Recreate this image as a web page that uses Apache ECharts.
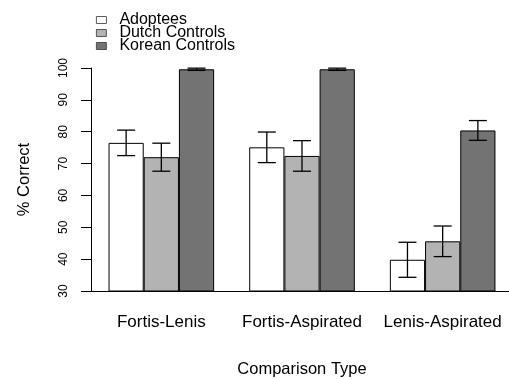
<!DOCTYPE html>
<html><head><meta charset="utf-8">
<script src="https://cdn.jsdelivr.net/npm/echarts@6/dist/echarts.min.js"></script>
<style>html,body{margin:0;padding:0;background:#fff}#c{width:509px;height:379px}</style>
</head><body><div id="c"></div>
<script>
var categories = ['Fortis-Lenis', 'Fortis-Aspirated', 'Lenis-Aspirated'];
var seriesNames = ['Adoptees', 'Dutch Controls', 'Korean Controls'];
var adoptees = [76.5, 75.1, 39.8];
var adopteesErr = [4.0, 4.8, 5.5];
var dutch = [72.0, 72.4, 45.6];
var dutchErr = [4.4, 4.8, 4.8];
var korean = [99.6, 99.6, 80.4];
var koreanErr = [0.35, 0.35, 3.1];
var yTicks = [30, 40, 50, 60, 70, 80, 90, 100];

var FONT = 'Liberation Sans, Arial, sans-serif';
var colors = ['#ffffff', '#b3b3b3', '#737373'];
var BAR_W = 35.2;
var values = [adoptees, dutch, korean];
var errs = [adopteesErr, dutchErr, koreanErr];

var series = [];
for (var s = 0; s < 3; s++) {
  series.push({
    name: seriesNames[s], type: 'bar', data: values[s], barWidth: BAR_W, barGap: '0%',
    itemStyle: { color: colors[s], borderColor: '#000', borderWidth: 1 },
    silent: true, z: 2
  });
}
for (var s2 = 0; s2 < 3; s2++) {
  (function (si) {
    var d = [];
    for (var i = 0; i < categories.length; i++) d.push([i, values[si][i] - errs[si][i], values[si][i] + errs[si][i]]);
    series.push({
      type: 'custom', data: d, z: 5, silent: true,
      renderItem: function (params, api) {
        var lo = api.coord([api.value(0), api.value(1)]);
        var hi = api.coord([api.value(0), api.value(2)]);
        var x = lo[0] + (si - 1) * BAR_W;
        var hw = 9;
        var st = { stroke: '#000', lineWidth: 1.3 };
        return { type: 'group', children: [
          { type: 'line', shape: { x1: x, y1: lo[1], x2: x, y2: hi[1] }, style: st },
          { type: 'line', shape: { x1: x - hw, y1: lo[1], x2: x + hw, y2: lo[1] }, style: st },
          { type: 'line', shape: { x1: x - hw, y1: hi[1], x2: x + hw, y2: hi[1] }, style: st }
        ]};
      }
    });
  })(s2);
}

var chart = echarts.init(document.getElementById('c'), null, { renderer: 'canvas' });
chart.setOption({
  animation: false,
  backgroundColor: '#fff',
  legend: {
    data: seriesNames, orient: 'vertical', left: 96, top: 12,
    itemWidth: 10, itemHeight: 7, itemGap: -3,
    icon: 'rect',
    itemStyle: { borderWidth: 0.8, borderColor: '#333' },
    textStyle: { fontFamily: FONT, fontSize: 16, color: '#000', padding: [0, 0, 0, 8] },
    padding: 0
  },
  grid: { left: 91, top: 68, width: 422, bottom: 88, containLabel: false, outerBoundsMode: 'none' },
  xAxis: {
    type: 'category', data: categories,
    axisLine: { show: true, lineStyle: { color: '#000', width: 1 } },
    axisTick: { show: false },
    axisLabel: { fontFamily: FONT, fontSize: 17, color: '#000', margin: 23, interval: 0 },
    name: 'Comparison Type', nameLocation: 'middle', nameGap: 70,
    nameTextStyle: { fontFamily: FONT, fontSize: 16.5, color: '#000' }
  },
  yAxis: {
    type: 'value', min: 30, max: 100, interval: 10,
    axisLine: { show: true, lineStyle: { color: '#000', width: 1 } },
    axisTick: { show: true, length: 10, lineStyle: { color: '#000' } },
    splitLine: { show: false },
    axisLabel: { fontFamily: FONT, fontSize: 12, color: '#000', rotate: 90, margin: 21,
      formatter: function (v) { return yTicks.indexOf(v) >= 0 ? String(v) : ''; } },
    name: '% Correct', nameLocation: 'middle', nameGap: 58, nameRotate: 90,
    nameTextStyle: { fontFamily: FONT, fontSize: 16.5, color: '#000' }
  },
  series: series
});
</script></body></html>
